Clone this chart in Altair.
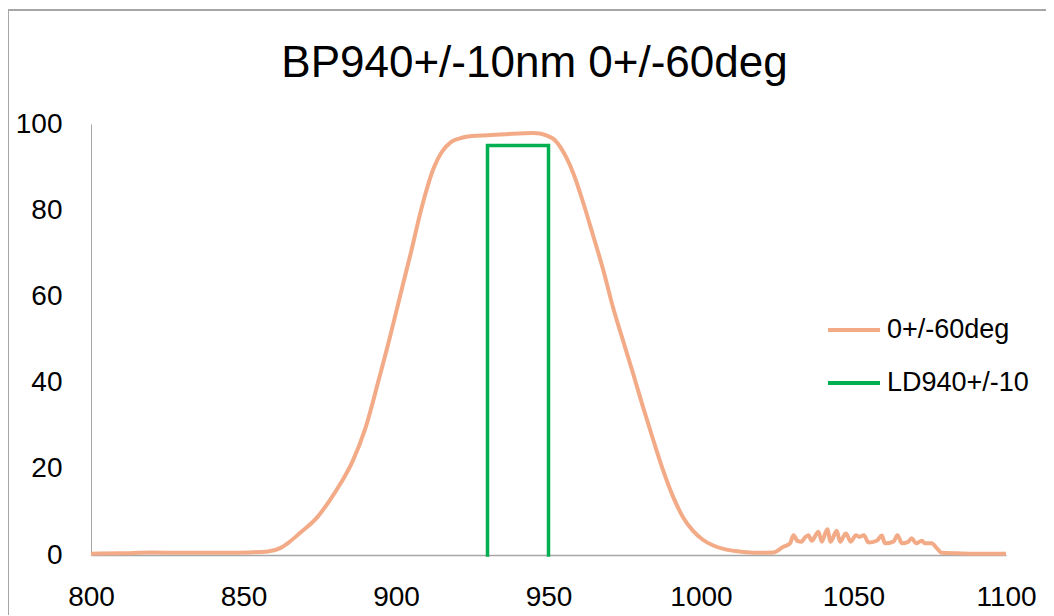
import altair as alt
import pandas as pd

# Filter transmission curve (wavelength nm, transmission %)
wl_curve = [800, 810, 820, 830, 836, 845, 852, 858, 862, 865, 868.5, 874, 878.4,
            882, 885.6, 890, 894.1, 898, 901.3, 905, 908.2, 912.5, 915, 918,
            921.6, 925, 930, 937, 944.9, 947.2, 949.5, 951.5, 952.8, 954, 956, 958,
            961, 964.6, 968, 971.1, 974.5, 977.7, 981, 984.3, 987.5, 990.8, 994,
            997.4, 1000.5, 1004, 1008, 1012.8, 1018, 1023.7, 1027, 1029.2, 1030.3,
            1031.6, 1033, 1034.1, 1035.2, 1036.3, 1038.5, 1039.6, 1041.4, 1042.5,
            1044.5, 1045.6, 1047.5, 1049.1, 1050.8, 1051.9, 1053.4, 1054.9, 1057.6,
            1059.3, 1060.3, 1063.1, 1064.4, 1065.9, 1068, 1069.1, 1070.5, 1072.4,
            1073.4, 1075.6, 1077.3, 1078.9, 1083.8, 1090, 1100]
tr_curve = [0.3, 0.4, 0.6, 0.5, 0.5, 0.5, 0.6, 0.8, 1.6, 3.0, 5.1, 8.6, 12.8,
            16.8, 21.5, 29.5, 40.0, 50.5, 60.0, 70.5, 80.0, 90.0, 93.5, 95.8,
            96.8, 97.2, 97.4, 97.7, 97.9, 97.8, 97.3, 96.6, 95.7, 94.5, 92.0, 88.8,
            82.6, 74.2, 66.0, 57.6, 49.6, 42.2, 34.3, 26.8, 19.8, 13.6, 8.9,
            5.6, 3.6, 2.2, 1.3, 0.8, 0.5, 0.6, 1.9, 2.7, 4.6,
            3.3, 3.1, 4.1, 4.6, 3.3, 5.4, 3.1, 6.0, 3.1,
            5.6, 3.1, 5.0, 3.1, 4.6, 4.2, 4.6, 2.9, 3.3,
            4.5, 2.7, 3.1, 4.6, 2.7, 3.1, 3.9, 2.7, 3.3,
            2.7, 2.7, 1.6, 0.5, 0.4, 0.3, 0.3]

# Laser diode band outline
wl_ld = [930, 930, 950, 950]
tr_ld = [0, 95, 95, 0]

series_names = ["0+/-60deg", "LD940+/-10"]
series_colors = ["#F3AA86", "#00B050"]
title_text = "BP940+/-10nm 0+/-60deg"

df_curve = pd.DataFrame({"wl": wl_curve, "t": tr_curve, "series": series_names[0],
                         "idx": list(range(len(wl_curve)))})
df_ld = pd.DataFrame({"wl": wl_ld, "t": tr_ld, "series": series_names[1],
                      "idx": list(range(len(wl_ld)))})

FONT = "Liberation Sans"

x_enc = alt.X("wl:Q", scale=alt.Scale(domain=[800, 1100], nice=False, zero=False),
              axis=alt.Axis(values=[800, 850, 900, 950, 1000, 1050, 1100], title=None,
                            format="d", ticks=False, grid=False, domainColor="#A6A6A6",
                            domainWidth=1.5, labelFont=FONT, labelFontSize=28,
                            labelColor="#000000", labelPadding=28, labelFlush=False))
y_enc = alt.Y("t:Q", scale=alt.Scale(domain=[0, 100], nice=False),
              axis=alt.Axis(values=[0, 20, 40, 60, 80, 100], title=None, ticks=False,
                            grid=False, domainColor="#A6A6A6", domainWidth=1,
                            labelFont=FONT, labelFontSize=28, labelColor="#000000",
                            labelPadding=29))
color_enc = alt.Color("series:N",
                      scale=alt.Scale(domain=series_names, range=series_colors),
                      legend=alt.Legend(title=None, orient="none", legendX=735, legendY=178,
                                        symbolType="stroke", symbolSize=2704,
                                        symbolStrokeWidth=4, labelFont=FONT,
                                        labelFontSize=27, labelColor="#000000",
                                        labelOffset=5, rowPadding=12, padding=0))

curve = alt.Chart(df_curve).mark_line(strokeWidth=4, interpolate="monotone").encode(
    x=x_enc, y=y_enc, color=color_enc, order="idx:Q")
ld = alt.Chart(df_ld).mark_line(strokeWidth=3.5, strokeCap="square").encode(
    x=x_enc, y=y_enc, color=color_enc, order="idx:Q")

frame_df = pd.DataFrame({"k": [0]})
left_border = alt.Chart(frame_df).mark_rule(color="#A6A6A6", strokeWidth=2).encode(
    x=alt.value(-83), y=alt.value(-114), y2=alt.value(500))
top_border = alt.Chart(frame_df).mark_rule(color="#A6A6A6", strokeWidth=2).encode(
    x=alt.value(-83), x2=alt.value(960), y=alt.value(-114))
title = alt.Chart(frame_df).mark_text(text=title_text, font=FONT, fontSize=44,
                                      color="#000000", align="center",
                                      baseline="alphabetic").encode(
    x=alt.value(443.5), y=alt.value(-47))

chart = alt.layer(curve, ld, left_border, top_border, title).properties(
    width=915, height=431,
    autosize=alt.AutoSizeParams(type="none"),
    padding={"left": 83, "top": 116, "right": 40, "bottom": 60},
).configure_view(stroke=None)

chart.save("out.html", embed_options={"renderer": "svg", "actions": False})
